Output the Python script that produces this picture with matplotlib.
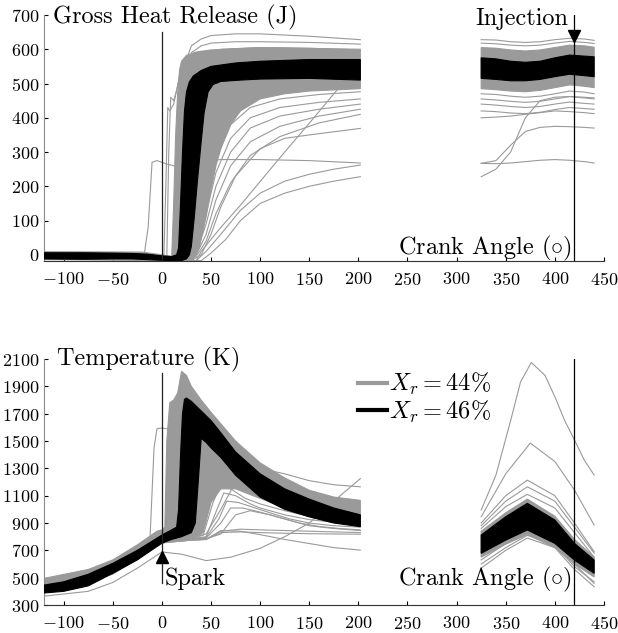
import numpy as np
import matplotlib
matplotlib.use("Agg")
import matplotlib.pyplot as plt
from matplotlib.lines import Line2D

plt.rcParams['font.family'] = ['cmr10', 'DejaVu Serif']
plt.rcParams['mathtext.fontset'] = 'cm'
plt.rcParams['axes.unicode_minus'] = False
plt.rcParams['axes.formatter.use_mathtext'] = True

GRAY = '#9a9a9a'
BIG = 17.5
TICK = 13

# ---------------- Gross heat release (J) ----------------
# black band (X_r = 46 %), crank angle segment -120..202
hr_blk_up_x = [-120, -80, -50, -30, -15, 0, 10, 15, 17, 19, 21, 23, 25, 28, 32, 40, 50, 75, 100, 150, 202]
hr_blk_up_y = [6, 6, 5, 4, 2, -3, -5, 0, 20, 150, 300, 420, 475, 505, 522, 538, 550, 560, 565, 570, 570]
hr_blk_lo_x = [-120, -80, -50, -30, -15, 0, 10, 20, 25, 28, 30, 33, 36, 40, 43, 47, 52, 60, 80, 100, 150, 202]
hr_blk_lo_y = [-12, -13, -12, -12, -14, -16, -17, -17, -12, 0, 25, 110, 210, 330, 415, 475, 497, 506, 510, 513, 515, 510]
# dense grey band (X_r = 44 %)
hr_gry_up_x = [-120, -20, 0, 10, 12, 14, 16, 18, 20, 25, 35, 50, 100, 150, 202]
hr_gry_up_y = [9, 8, 0, -5, 150, 350, 470, 540, 565, 582, 592, 598, 605, 603, 598]
hr_gry_lo_x = [-120, 0, 25, 32, 38, 45, 50, 55, 60, 70, 80, 100, 125, 150, 202]
hr_gry_lo_y = [-14, -17, -17, -12, 20, 110, 190, 260, 310, 380, 420, 455, 470, 478, 485]
# sparse grey cycles
hr_sparse = [
    ([-120, 0, 12, 16, 20, 25, 30, 40, 50, 75, 100, 150, 202], [0, -5, -5, 150, 450, 570, 610, 630, 640, 645, 645, 638, 628]),
    ([-120, 0, 12, 16, 20, 25, 30, 40, 50, 75, 100, 150, 202], [0, -5, -5, 80, 380, 540, 590, 610, 618, 622, 622, 620, 615]),
    ([-120, -5, 2, 4, 6, 8, 12, 18, 25, 40, 60, 100, 202], [0, -5, -5, 200, 430, 420, 440, 520, 570, 590, 600, 605, 600]),
    ([-120, 0, 5, 7, 9, 12, 15, 20, 30, 50, 100, 202], [0, -5, -5, 300, 460, 450, 480, 550, 580, 592, 598, 595]),
    ([-120, -18, -14, -10, -5, 5, 15, 30, 60, 100, 150, 202], [0, 0, 80, 270, 275, 265, 258, 270, 278, 278, 275, 268]),
    ([-120, 0, 20, 35, 40, 60, 80, 100, 125, 150, 175, 190, 202], [-5, -10, -17, -17, 10, 80, 145, 214, 300, 384, 470, 520, 560]),
    ([-120, 0, 25, 35, 45, 55, 70, 90, 120, 160, 202], [0, -15, -17, 20, 150, 280, 380, 430, 455, 468, 476]),
    ([-120, 0, 25, 35, 45, 55, 70, 90, 120, 160, 202], [0, -15, -17, 10, 120, 240, 340, 400, 430, 445, 455]),
    ([-120, 0, 25, 35, 45, 55, 70, 90, 120, 160, 202], [0, -15, -17, 5, 90, 200, 300, 370, 405, 425, 440]),
    ([-120, 0, 25, 35, 45, 55, 70, 90, 120, 160, 202], [0, -15, -17, 0, 60, 160, 260, 330, 375, 405, 425]),
    ([-120, 0, 25, 35, 45, 55, 70, 90, 120, 160, 202], [0, -15, -17, -5, 40, 120, 210, 290, 345, 385, 410]),
    ([-120, 0, 30, 40, 50, 60, 75, 100, 125, 150, 202], [0, -15, -17, 0, 60, 140, 230, 310, 340, 350, 369]),
    ([-120, 0, 35, 45, 60, 80, 100, 125, 150, 175, 202], [0, -15, -17, 10, 60, 130, 180, 215, 235, 250, 262]),
    ([-120, 0, 40, 50, 65, 80, 100, 125, 150, 175, 202], [0, -15, -17, 5, 45, 100, 150, 180, 200, 215, 228]),
]
# second segment 325..440
hr2_x = [325, 340, 355, 370, 385, 400, 415, 430, 440]
hr2_blk_up = [575, 572, 565, 562, 565, 575, 583, 580, 578]
hr2_blk_lo = [515, 512, 508, 508, 512, 520, 527, 523, 520]
hr2_gry_up = [605, 603, 598, 595, 598, 605, 612, 610, 606]
hr2_gry_lo = [485, 482, 478, 476, 480, 488, 496, 492, 488]
hr2_sparse = [
    [628, 627, 622, 620, 622, 628, 632, 630, 626],
    [618, 616, 612, 610, 612, 618, 623, 620, 617],
    [470, 468, 463, 460, 463, 470, 478, 475, 470],
    [455, 452, 448, 445, 448, 455, 462, 458, 455],
    [440, 437, 433, 430, 433, 440, 446, 442, 440],
    [420, 418, 414, 412, 416, 424, 430, 427, 425],
    [400, 402, 405, 410, 415, 420, 418, 415, 412],
    [228, 250, 300, 400, 450, 460, 462, 460, 458],
    [267, 275, 320, 360, 372, 375, 374, 372, 370],
    [267, 266, 268, 272, 276, 278, 276, 272, 268],
]

# ---------------- Temperature (K) ----------------
t_blk_up_x = [-120, -100, -75, -50, -25, 0, 10, 15, 17, 19, 21, 23, 25, 30, 40, 50, 60, 75, 100, 125, 150, 175, 202]
t_blk_up_y = [446, 470, 525, 605, 700, 812, 850, 870, 1000, 1400, 1700, 1805, 1815, 1790, 1720, 1650, 1560, 1420, 1260, 1150, 1075, 1010, 960]
t_blk_lo_x = [-120, -100, -75, -50, -25, 0, 10, 20, 30, 34, 37, 40, 45, 50, 60, 75, 100, 125, 150, 175, 202]
t_blk_lo_y = [388, 400, 440, 532, 630, 753, 780, 800, 830, 900, 1200, 1520, 1490, 1450, 1380, 1250, 1090, 1000, 945, 900, 873]
t_gry_up_x = [-120, -75, -50, -25, -5, 0, 3, 5, 8, 12, 16, 20, 25, 30, 40, 50, 75, 100, 125, 150, 175, 202]
t_gry_up_y = [495, 560, 630, 740, 840, 850, 870, 1500, 1780, 1800, 1850, 2010, 1980, 1900, 1800, 1710, 1500, 1340, 1230, 1140, 1090, 1066]
t_gry_lo_x = [-120, -50, 0, 15, 25, 35, 42, 50, 60, 75, 100, 125, 150, 175, 202]
t_gry_lo_y = [395, 525, 750, 785, 790, 800, 830, 1050, 1150, 1150, 1080, 1010, 960, 935, 930]
t_sparse = [
    ([-120, -75, -50, -25, 0, 20, 45, 70, 100, 125, 150, 175, 202], [365, 400, 465, 570, 688, 672, 625, 650, 715, 800, 900, 1060, 1225]),
    ([-120, -50, -20, -12, -8, -5, 0, 5, 10, 12, 15, 25], [470, 600, 740, 800, 1450, 1590, 1595, 1590, 1590, 1200, 870, 820]),
    ([-120, 0, 30, 45, 60, 75, 90, 100, 125, 150, 175, 202], [410, 765, 790, 820, 1000, 1200, 1305, 1300, 1260, 1210, 1180, 1165]),
    ([-120, 0, 30, 40, 50, 56, 65, 80, 100, 125, 150, 175, 202], [400, 760, 790, 820, 1150, 1250, 1220, 1150, 1090, 1020, 975, 950, 935]),
    ([-120, 0, 30, 42, 52, 60, 70, 85, 100, 125, 150, 175, 202], [400, 760, 790, 810, 1050, 1180, 1150, 1080, 1040, 990, 950, 930, 915]),
    ([-120, 0, 30, 45, 55, 63, 75, 90, 100, 125, 150, 175, 202], [400, 760, 785, 800, 980, 1120, 1100, 1040, 1010, 960, 925, 905, 895]),
    ([-120, 0, 30, 45, 58, 66, 78, 95, 110, 130, 150, 175, 202], [400, 760, 785, 795, 930, 1060, 1050, 1010, 975, 930, 900, 880, 870]),
    ([-120, 0, 30, 45, 60, 70, 82, 100, 120, 140, 160, 180, 202], [400, 760, 785, 790, 900, 1010, 1010, 980, 940, 900, 875, 860, 850]),
    ([-120, 0, 30, 45, 60, 75, 90, 110, 130, 150, 175, 202], [400, 760, 780, 785, 820, 960, 990, 960, 920, 880, 860, 845]),
    ([-120, 0, 30, 45, 60, 80, 100, 125, 150, 175, 202], [400, 755, 775, 780, 840, 855, 850, 845, 840, 835, 830]),
    ([-120, 0, 30, 45, 60, 80, 100, 125, 150, 175, 202], [400, 755, 775, 780, 830, 835, 830, 825, 822, 820, 818]),
    ([-120, 0, 30, 45, 60, 80, 100, 125, 150, 175, 202], [400, 755, 775, 780, 845, 840, 815, 780, 750, 720, 702]),
]
t2_x = [325, 350, 372, 400, 420, 440]
t2_blk_up = [812, 946, 1044, 922, 751, 629]
t2_blk_lo = [678, 775, 849, 751, 629, 532]
t2_gry_up = [840, 975, 1075, 950, 780, 650]
t2_gry_lo = [650, 745, 815, 720, 600, 505]
t2_sparse = [
    ([325, 340, 355, 365, 376, 390, 400, 410, 420, 430, 440], [995, 1250, 1650, 1930, 2075, 1980, 1824, 1650, 1507, 1360, 1251]),
    ([325, 350, 375, 400, 420, 440], [946, 1260, 1485, 1350, 1141, 885]),
    ([325, 350, 372, 400, 420, 440], [900, 1100, 1214, 1100, 900, 690]),
    ([325, 350, 372, 400, 420, 440], [880, 1060, 1165, 1060, 870, 680]),
    ([325, 350, 372, 400, 420, 440], [860, 1020, 1110, 1010, 830, 650]),
    ([325, 350, 372, 400, 420, 440], [570, 700, 790, 720, 560, 434]),
    ([325, 350, 372, 400, 420, 440], [630, 750, 840, 760, 600, 458]),
    ([325, 350, 372, 400, 420, 440], [600, 720, 810, 740, 580, 470]),
]

x_ticks = [-100, -50, 0, 50, 100, 150, 200, 250, 300, 350, 400, 450]
hr_yticks = [0, 100, 200, 300, 400, 500, 600, 700]
t_yticks = [300, 500, 700, 900, 1100, 1300, 1500, 1700, 1900, 2100]
spark_angle = 0
injection_angle = 420


def band(ax, xu, yu, xl, yl, color):
    ax.fill(np.concatenate([xu, xl[::-1]]), np.concatenate([yu, yl[::-1]]),
            color=color, lw=0.8, ec=color, zorder=2 if color != 'k' else 3)


def style(ax, yticks, ylim):
    ax.set_xlim(-120, 450)
    ax.set_ylim(*ylim)
    ax.set_xticks(x_ticks)
    ax.set_yticks(yticks)
    for s in ['top', 'right']:
        ax.spines[s].set_visible(False)
    ax.spines['left'].set_color('#8a8a8a')
    ax.spines['bottom'].set_color('#333333')
    ax.tick_params(direction='in', length=3, labelsize=TICK, width=0.8)
    ax.tick_params(axis='x', pad=7)
    ax.tick_params(axis='y', pad=3)


fig = plt.figure(figsize=(6.18, 6.33), dpi=100)
ax1 = fig.add_axes([0.0712, 0.5877, 0.9061, 0.3886])
ax2 = fig.add_axes([0.0712, 0.0442, 0.9061, 0.3886])

# ----- top -----
band(ax1, np.array(hr_gry_up_x), np.array(hr_gry_up_y), np.array(hr_gry_lo_x), np.array(hr_gry_lo_y), GRAY)
for xs, ys in hr_sparse:
    ax1.plot(xs, ys, color=GRAY, lw=0.8, zorder=2)
band(ax1, np.array(hr_blk_up_x), np.array(hr_blk_up_y), np.array(hr_blk_lo_x), np.array(hr_blk_lo_y), 'k')
x2 = np.array(hr2_x)
band(ax1, x2, np.array(hr2_gry_up), x2, np.array(hr2_gry_lo), GRAY)
for ys in hr2_sparse:
    ax1.plot(hr2_x, ys, color=GRAY, lw=0.8, zorder=2)
band(ax1, x2, np.array(hr2_blk_up), x2, np.array(hr2_blk_lo), 'k')

ax1.plot([spark_angle, spark_angle], [-18, 650], color='#222222', lw=0.9, zorder=4)
ax1.plot([injection_angle, injection_angle], [-18, 700], color='k', lw=0.9, zorder=4)
ax1.plot([injection_angle], [640], marker='v', color='k', ms=8, zorder=5)
ax1.text(-111, 694, 'Gross Heat Release (J)', fontsize=BIG, va='center', ha='left')
ax1.text(414, 670, 'Injection', fontsize=BIG, va='baseline', ha='right')
ax1.text(417, 2, r'Crank Angle ($\circ$)', fontsize=BIG, va='baseline', ha='right')
style(ax1, hr_yticks, (-18, 700))

# ----- bottom -----
band(ax2, np.array(t_gry_up_x), np.array(t_gry_up_y), np.array(t_gry_lo_x), np.array(t_gry_lo_y), GRAY)
for xs, ys in t_sparse:
    ax2.plot(xs, ys, color=GRAY, lw=0.8, zorder=2)
band(ax2, np.array(t_blk_up_x), np.array(t_blk_up_y), np.array(t_blk_lo_x), np.array(t_blk_lo_y), 'k')
tx2 = np.array(t2_x)
band(ax2, tx2, np.array(t2_gry_up), tx2, np.array(t2_gry_lo), GRAY)
for xs, ys in t2_sparse:
    ax2.plot(xs, ys, color=GRAY, lw=0.8, zorder=2)
band(ax2, tx2, np.array(t2_blk_up), tx2, np.array(t2_blk_lo), 'k')

ax2.plot([spark_angle, spark_angle], [460, 2000], color='#222222', lw=0.9, zorder=4)
ax2.plot([spark_angle], [655], marker='^', color='k', ms=8, zorder=5)
ax2.plot([injection_angle, injection_angle], [300, 2100], color='k', lw=0.9, zorder=4)
ax2.text(-107, 2100, 'Temperature (K)', fontsize=BIG, va='center', ha='left')
ax2.text(3, 446, 'Spark', fontsize=BIG, va='baseline', ha='left')
ax2.text(417, 440, r'Crank Angle ($\circ$)', fontsize=BIG, va='baseline', ha='right')
style(ax2, t_yticks, (300, 2100))

handles = [Line2D([], [], color=GRAY, lw=3), Line2D([], [], color='k', lw=3)]
ax2.legend(handles, [r'$X_r = 44\%$', r'$X_r = 46\%$'], loc='upper left',
           bbox_to_anchor=(0.56, 0.95), frameon=False, fontsize=BIG,
           handlelength=1.2, handletextpad=0.1, labelspacing=0.05, borderpad=0, borderaxespad=0)

fig.savefig('out.png', dpi=100)
